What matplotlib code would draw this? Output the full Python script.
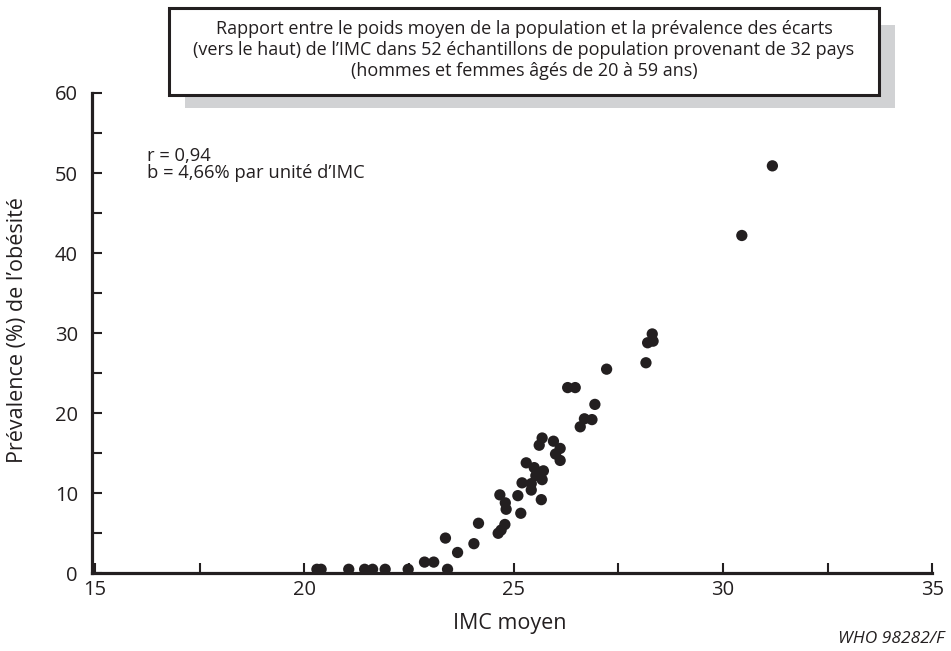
import matplotlib
matplotlib.use("Agg")
import matplotlib.pyplot as plt
from matplotlib.patches import Rectangle

plt.rcParams['font.family'] = ['Open Sans', 'DejaVu Sans']

imc = [20.30, 20.40, 21.06, 21.44, 21.63, 21.93, 22.48, 22.87, 23.09, 23.37,
       23.42, 23.66, 24.05, 24.16, 24.63, 24.70, 24.79, 24.67, 24.80, 24.82,
       25.10, 25.17, 25.20, 25.30, 25.42, 25.42, 25.49, 25.53, 25.68, 25.71,
       25.66, 25.61, 25.68, 25.95, 26.11, 26.00, 26.11, 26.29, 26.47, 26.59,
       26.69, 26.87, 26.94, 27.22, 28.16, 28.20, 28.33, 28.31, 30.45, 31.18]
prevalence = [0.5, 0.5, 0.5, 0.5, 0.5, 0.5, 0.5, 1.4, 1.4, 4.4,
              0.5, 2.6, 3.7, 6.25, 5.0, 5.4, 6.1, 9.8, 8.8, 8.0,
              9.7, 7.5, 11.3, 13.8, 11.2, 10.4, 13.2, 12.2, 11.7, 12.8,
              9.2, 16.0, 16.9, 16.5, 15.6, 14.9, 14.1, 23.2, 23.2, 18.3,
              19.3, 19.2, 21.1, 25.5, 26.3, 28.8, 29.0, 29.9, 42.2, 50.9]

x_ticks = [15, 20, 25, 30, 35]
y_ticks = [0, 10, 20, 30, 40, 50, 60]

title_lines = ("Rapport entre le poids moyen de la population et la prévalence des écarts\n"
               "(vers le haut) de l\u2019IMC dans 52 échantillons de population provenant de 32 pays\n"
               "(hommes et femmes âgés de 20 à 59 ans)")
stats_text = "r = 0,94\nb = 4,66% par unité d\u2019IMC"

W, H = 951, 651
fig = plt.figure(figsize=(W / 100, H / 100), dpi=100)
ax_l, ax_r, ax_b, ax_t = 91.7, 932.3, 573.3, 93.0
ax = fig.add_axes([ax_l / W, 1 - ax_b / H, (ax_r - ax_l) / W, (ax_b - ax_t) / H])

dark = '#231f20'
ax.scatter(imc, prevalence, s=66, color=dark, edgecolors='none', zorder=3, clip_on=False)

ax.set_xlim(14.92, 35)
ax.set_ylim(0, 60)
ax.set_xticks(x_ticks)
ax.set_yticks(y_ticks)
ax.set_xticks([17.5, 22.5, 27.5, 32.5], minor=True)
ax.set_yticks([5, 15, 25, 35, 45, 55], minor=True)
ax.tick_params(which='both', direction='in', length=7.5, width=1.5, color=dark,
               labelsize=14.5, labelcolor=dark)
ax.tick_params(axis='x', which='major', pad=5)
ax.tick_params(axis='y', which='major', pad=10)
for s in ['top', 'right']:
    ax.spines[s].set_visible(False)
for s in ['left', 'bottom']:
    ax.spines[s].set_linewidth(2.3)
    ax.spines[s].set_color(dark)

ax.set_xlabel("IMC moyen", fontsize=15.5, color=dark)
ax.set_ylabel("Prévalence (%) de l\u2019obésité", fontsize=15.5, color=dark)
ax.xaxis.set_label_coords((510 - ax_l) / (ax_r - ax_l), (ax_b - 624) / (ax_b - ax_t))
ax.xaxis.label.set_va('center')
ax.yaxis.set_label_coords((18 - ax_l) / (ax_r - ax_l), (ax_b - 330) / (ax_b - ax_t))
ax.yaxis.label.set_va('center')

ax.text(147 / W, 1 - 147 / H, stats_text, transform=fig.transFigure, fontsize=13.2,
        color=dark, va='top', ha='left', linespacing=0.95)

# title box with shadow
fig.patches.append(Rectangle((185 / W, 1 - 108 / H), (895 - 185) / W, (108 - 25) / H,
                             transform=fig.transFigure, facecolor='#d1d2d4',
                             edgecolor='none', zorder=1))
fig.patches.append(Rectangle((169 / W, 1 - 95 / H), (879 - 169) / W, (95 - 8) / H,
                             transform=fig.transFigure, facecolor='white',
                             edgecolor=dark, linewidth=2.2, zorder=2))
fig.text(524 / W, 1 - 50 / H, title_lines, ha='center', va='center', fontsize=13.0,
         color=dark, linespacing=1.2, zorder=3)

fig.text(944 / W, 1 - 639 / H, "WHO 98282/F", ha='right', va='center', fontsize=12.5,
         style='italic', color=dark)

fig.savefig("out.png", dpi=100)
